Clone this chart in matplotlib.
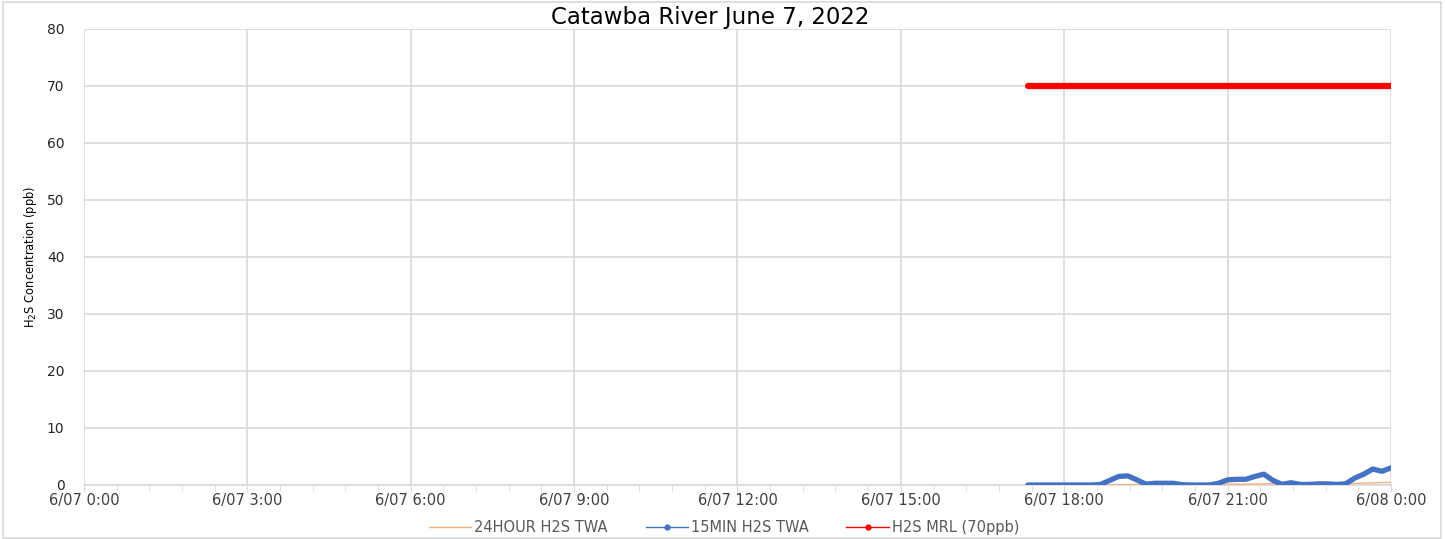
import matplotlib
matplotlib.use("Agg")
import matplotlib.pyplot as plt
import matplotlib.dates as mdates
from matplotlib.patches import Rectangle
from matplotlib.lines import Line2D
import pandas as pd
import numpy as np

# ---- data ----
start_time = "2022-06-07 17:20"
end_time = "2022-06-08 00:00"
step = "10min"
twa_15min = [0, 0, 0, 0, 0, 0, 0, 0, 0.1, 0.8, 1.5, 1.6, 0.9, 0.15, 0.3, 0.3, 0.3,
             0.05, 0, 0, 0, 0.3, 0.9, 1.0, 1.0, 1.5, 1.9, 0.8, 0.1, 0.4, 0.1, 0.1,
             0.2, 0.2, 0.1, 0.2, 1.2, 1.9, 2.8, 2.4, 3.0]
twa_24hour = [0, 0, 0, 0, 0, 0, 0, 0, 0.01, 0.02, 0.04, 0.06, 0.08, 0.08, 0.09, 0.1, 0.1,
              0.1, 0.1, 0.1, 0.1, 0.1, 0.12, 0.14, 0.16, 0.18, 0.2, 0.22, 0.22, 0.23, 0.23, 0.23,
              0.24, 0.24, 0.24, 0.25, 0.28, 0.32, 0.37, 0.42, 0.47]
mrl_value = 70
series_labels = ["24HOUR H2S TWA", "15MIN H2S TWA", "H2S MRL (70ppb)"]
title = "Catawba River June 7, 2022"
ylabel = "H$_2$S Concentration (ppb)"
x_start = "2022-06-07 00:00"
x_end = "2022-06-08 00:00"

times = pd.date_range(start_time, end_time, freq=step)
mrl = [mrl_value] * len(times)

fig = plt.figure(figsize=(14.45, 5.39), dpi=100)
ax = fig.add_axes([0.0581, 0.1002, 0.9045, 0.846])

grid_c = "#d9d9d9"
c_orange, c_blue, c_red = "#f4b183", "#4472c4", "#ff0000"
ax.plot(times, twa_24hour, color=c_orange, lw=1.0, zorder=3)
ax.plot(times, twa_15min, color=c_blue, lw=3.8, solid_joinstyle="round",
        solid_capstyle="round", zorder=4)
ax.plot(times, mrl, color=c_red, lw=4.5, solid_capstyle="round", zorder=4)

ax.set_xlim(pd.Timestamp(x_start), pd.Timestamp(x_end))
ax.set_ylim(0, 80)
ax.set_yticks(np.arange(0, 81, 10))
ax.xaxis.set_major_locator(mdates.HourLocator(byhour=range(0, 24, 3)))

def fmt(x, pos=None):
    d = mdates.num2date(x)
    return f"{d.month}/{d.day:02d} {d.hour}:{d.minute:02d}"
ax.xaxis.set_major_formatter(plt.FuncFormatter(fmt))

minor = pd.date_range(x_start, x_end, freq="36min")
ax.set_xticks(mdates.date2num(minor), minor=True)

ax.grid(True, which="major", axis="both", color=grid_c, lw=1.2)
ax.set_axisbelow(True)
for s in ["top", "right", "left"]:
    ax.spines[s].set_visible(False)
ax.spines["bottom"].set_color(grid_c)
ax.spines["bottom"].set_linewidth(1.2)
ax.tick_params(axis="x", which="major", length=5, color=grid_c, labelsize=10.5,
               labelcolor="#404040", pad=1)
ax.tick_params(axis="x", which="minor", length=4, color=grid_c)
ax.tick_params(axis="y", length=0, labelsize=10, labelcolor="#262626", pad=14)

ax.set_title(title, fontsize=16.5, pad=1, color="#000000", x=0.479)
ax.set_ylabel(ylabel, fontsize=9.2, family="DejaVu Sans", fontstretch="condensed",
              labelpad=6)

handles = [
    Line2D([], [], color=c_orange, lw=1.0),
    Line2D([], [], color=c_blue, lw=1.0, marker="o", ms=3.5),
    Line2D([], [], color=c_red, lw=1.0, marker="o", ms=3.5),
]
leg = fig.legend(handles, series_labels, loc="center", bbox_to_anchor=(0.501, 0.022),
                 ncol=3, frameon=False, fontsize=10.5, handlelength=2.9,
                 columnspacing=2.6, handletextpad=0.2)
for t in leg.get_texts():
    t.set_color("#595959")

fig.patches.append(Rectangle((0.002, 0.002), 0.995, 0.995, transform=fig.transFigure,
                             fill=False, edgecolor="#d9d9d9", lw=1.2))

fig.savefig("out.png", dpi=100)
